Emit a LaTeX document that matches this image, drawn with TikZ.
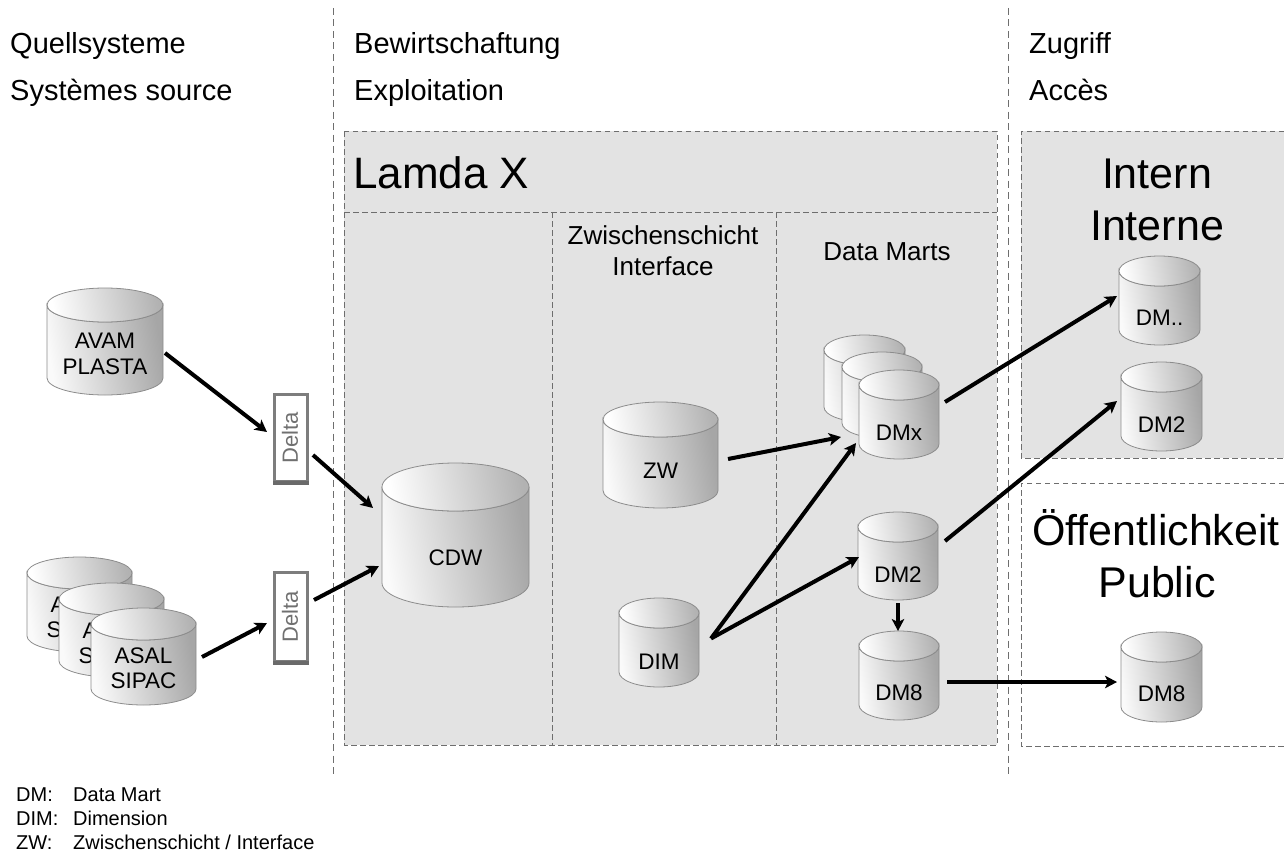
\documentclass[tikz,border=0pt]{standalone}
\usepackage{fontspec}
\setmainfont{Liberation Sans}
\usetikzlibrary{arrows.meta,calc}
\definecolor{panel}{HTML}{E3E3E3}
\definecolor{dashc}{HTML}{6E6E6E}
\definecolor{cylline}{HTML}{8C8C8C}
\definecolor{deltac}{HTML}{7D7D7D}
\tikzset{
  panelline/.style={draw=dashc,line width=1pt,dash pattern=on 5.5pt off 3.5pt},
  sep/.style={draw=dashc,line width=1pt,dash pattern=on 7pt off 4.5pt},
  conn/.style={line width=4pt,black,-{Stealth[length=12pt,width=12.5pt,inset=3pt]}},
  cylbody/.style={draw=cylline,line width=0.8pt,left color=white!98!black,right color=black!35,shading angle=100},
  cyltop/.style={draw=cylline,line width=0.8pt,left color=white,right color=black!30,shading angle=100},
  head/.style={anchor=base west,inner sep=0pt,font=\fontsize{29}{32}\selectfont},
  big/.style={anchor=base,inner sep=0pt,font=\fontsize{43}{46}\selectfont},
  mid/.style={anchor=base,inner sep=0pt,font=\fontsize{26}{28}\selectfont},
  dbt/.style={align=center,font=\fontsize{22.5}{25.5}\selectfont,inner sep=0pt},
  legend/.style={anchor=base west,font=\fontsize{20}{22}\selectfont,inner sep=0pt},
  deltabox/.style={draw=deltac,line width=3pt,fill=white,minimum width=33pt,inner sep=0pt},
  deltatext/.style={rotate=90,text=deltac!90!black,font=\fontsize{22}{26}\selectfont,inner sep=0pt},
  deltafoot/.style={draw=deltac!85!black,line width=4.5pt,line cap=butt}
}
% name, left x, top y, width, height, ry, text centre y, text
\newcommand{\dbcyl}[8]{%
  \pgfmathsetmacro{\cxx}{#2+#4/2}%
  \pgfmathsetmacro{\rxx}{#4/2}%
  \pgfmathsetmacro{\tyy}{#3+#6}%
  \pgfmathsetmacro{\byy}{#3+#5-#6}%
  \pgfmathsetmacro{\rgx}{#2+#4}%
  \path[cylbody] (#2,\tyy) -- (#2,\byy) arc[start angle=180,end angle=0,x radius=\rxx,y radius=#6] -- (\rgx,\tyy) arc[start angle=0,end angle=180,x radius=\rxx,y radius=#6] -- cycle;
  \path[cyltop] (\cxx,\tyy) ellipse[x radius=\rxx,y radius=#6];
  \node[dbt] (#1) at (\cxx,#7) {#8};
}
\begin{document}
\begin{tikzpicture}[x=1pt,y=-1pt]
\useasboundingbox (0,0) rectangle (1284,851);
% separators
\draw[sep] (333,8) -- (333,775);
\draw[sep] (1008,8) -- (1008,775);
% panels
\fill[panel] (344,131) rectangle (997,745);
\draw[panelline] (344,131) rectangle (997,745);
\draw[panelline] (344,212) -- (997,212);
\draw[panelline] (552,212) -- (552,745);
\draw[panelline] (776,212) -- (776,745);
\fill[panel] (1021,131) rectangle (1284,458);
\draw[panelline] (1284,131) -- (1021,131) -- (1021,458) -- (1284,458);
\draw[panelline] (1284,483) -- (1021,483) -- (1021,746) -- (1284,746);
% headings
\node[head] (h1) at (10,54) {Quellsysteme};
\node[head] (h2) at (10,100) {Systèmes source};
\node[head] (h3) at (354,54) {Bewirtschaftung};
\node[head] (h4) at (354,100) {Exploitation};
\node[head] (h5) at (1029,54) {Zugriff};
\node[head] (h6) at (1029,100) {Accès};
\node[anchor=base west,inner sep=0pt,font=\fontsize{44}{50}\selectfont] (lamda) at (353,188) {Lamda X};
\node[big] (intern) at (1157,188) {Intern};
\node[big] (interne) at (1157,240) {Interne};
\node[big] (oeff) at (1156,545) {Öffentlichkeit};
\node[big] (public) at (1157,597) {Public};
\node[mid] (zw1) at (663,244) {Zwischenschicht};
\node[mid] (zw2) at (663,275) {Interface};
\node[mid] (dmarts) at (887,260) {Data Marts};
% databases
\dbcyl{avam}{47}{288}{116}{107}{17}{354}{AVAM\\PLASTA}
\dbcyl{asalA}{27}{557}{105}{95}{16}{617}{ASAL\\SIPAC}
\dbcyl{asalB}{59}{583}{105}{94}{16}{643}{ASAL\\SIPAC}
\dbcyl{asalC}{91}{608}{105}{97}{16}{668}{ASAL\\SIPAC}
\dbcyl{cdw}{382}{463}{147}{144}{24}{557.5}{CDW}
\dbcyl{zw}{603}{402}{115}{106}{17.5}{470.5}{ZW}
\dbcyl{dim}{619}{598}{80}{89}{15}{661.5}{DIM}
\dbcyl{dmxA}{824}{335}{81}{87}{15}{400}{}
\dbcyl{dmxB}{842}{352}{80}{86}{15}{417}{}
\dbcyl{dmx}{859}{370}{80}{89}{15}{432.5}{DMx}
\dbcyl{dmtwo}{858}{512}{80}{88}{15}{574.5}{DM2}
\dbcyl{dmeight}{859}{631}{80}{89}{15}{693}{DM8}
\dbcyl{dmdots}{1119}{256}{81}{89}{15}{318}{DM..}
\dbcyl{dmtwor}{1121}{362}{81}{89}{15}{425}{DM2}
\dbcyl{dmeightr}{1121}{632}{81}{90}{15}{694}{DM8}
% delta boxes
\node[deltabox,minimum height=87pt] (deltaA) at (291,438) {};
\draw[deltafoot] (deltaA.south west) -- (deltaA.south east);
\node[deltatext] (deltaAt) at (290,438) {Delta};
\node[deltabox,minimum height=89pt] (deltaB) at (291,617) {};
\draw[deltafoot] (deltaB.south west) -- (deltaB.south east);
\node[deltatext] (deltaBt) at (290,617) {Delta};
% connectors
\draw[conn] ($(avam)+(60,-1)$) -- ($(deltaA)+(-24,-6)$);
\draw[conn] ($(deltaA)+(22,17)$) -- ($(cdw)+(-82.5,-49.5)$);
\draw[conn] ($(asalC)+(58.5,-11)$) -- ($(deltaB)+(-24,6)$);
\draw[conn] ($(deltaB)+(23,-17)$) -- ($(cdw)+(-76.5,8.5)$);
\draw[conn] ($(zw)+(67.5,-11.5)$) -- ($(dmx)+(-58,4.5)$);
\draw[conn] ($(dim)+(52,-23)$) -- ($(dmx)+(-43,10.5)$);
\draw[conn] ($(dim)+(52,-23)$) -- ($(dmtwo)+(-39,-17.5)$);
\draw[conn] ($(dmtwo)+(0,28.5)$) -- ($(dmeight)+(-1,-62)$);
\draw[conn] ($(dmx)+(46,-30.5)$) -- ($(dmdots)+(-42.5,-22)$);
\draw[conn] ($(dmtwo)+(47,-33.5)$) -- ($(dmtwor)+(-44.5,-24)$);
\draw[conn] ($(dmeight)+(48,-11)$) -- ($(dmeightr)+(-44.5,-12)$);
% legend
\node[legend] (l1) at (16,801) {DM:};
\node[legend] (l1b) at (73,801) {Data Mart};
\node[legend] (l2) at (16,825) {DIM:};
\node[legend] (l2b) at (73,825) {Dimension};
\node[legend] (l3) at (16,849) {ZW:};
\node[legend] (l3b) at (73,849) {Zwischenschicht / Interface};
\end{tikzpicture}
\end{document}
